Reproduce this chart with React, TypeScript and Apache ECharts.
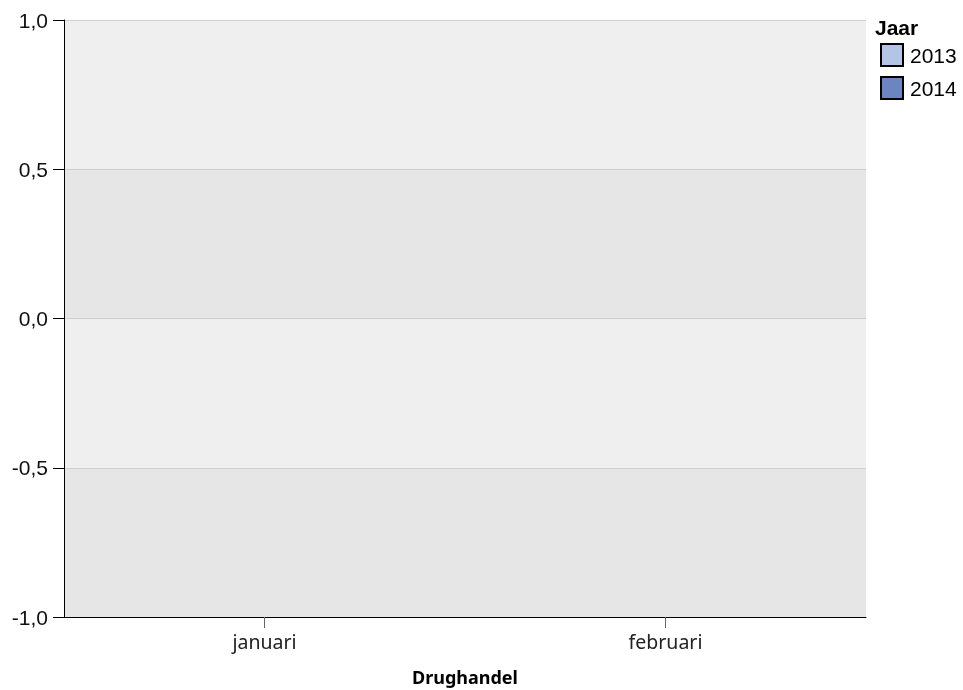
import React, { useEffect, useRef } from "react";
import * as echarts from "echarts";

const categories = ["januari", "februari"];
const years = ["2013", "2014"];
const values2013 = [0, 0];
const values2014 = [0, 0];
const yTicks = { min: -1, max: 1, interval: 0.5 };
const colors = ["#b4c4e6", "#6c84c0"];

const ARIAL = "'Liberation Sans', Arial, sans-serif";
const SANS = "'Noto Sans', sans-serif";

export default function App() {
  const ref = useRef<HTMLDivElement>(null);
  useEffect(() => {
    const chart = echarts.init(ref.current!, null, { renderer: "svg" });
    chart.setOption({
      animation: false,
      grid: { left: 64, top: 20, right: 97, bottom: 73, containLabel: false, outerBoundsMode: "none" },
      xAxis: {
        type: "category",
        data: categories,
        name: "Drughandel",
        nameLocation: "middle",
        nameGap: 51,
        nameTextStyle: { fontFamily: SANS, fontWeight: "bold", fontSize: 18, color: "#000" },
        axisLine: { onZero: false, lineStyle: { color: "#000", width: 1 } },
        axisTick: { show: true, alignWithLabel: true, length: 11, lineStyle: { color: "#666" } },
        axisLabel: { fontFamily: SANS, fontSize: 19.5, color: "#222", margin: 14 },
      },
      yAxis: {
        type: "value",
        min: yTicks.min,
        max: yTicks.max,
        interval: yTicks.interval,
        axisLine: { show: true, lineStyle: { color: "#000", width: 1 } },
        axisTick: { show: true, length: 11, lineStyle: { color: "#000" } },
        axisLabel: {
          fontFamily: ARIAL,
          fontSize: 21,
          color: "#111",
          margin: 16,
          formatter: (v: number) => v.toFixed(1).replace(".", ","),
        },
        splitLine: { show: true, lineStyle: { color: "#cfcfcf", width: 1 } },
        splitArea: { show: true, areaStyle: { color: ["#e6e6e6", "#efefef"] } },
      },
      legend: {
        orient: "vertical",
        left: 880,
        top: 43,
        padding: 0,
        itemWidth: 22,
        itemHeight: 22,
        itemGap: 9,
        icon: "rect",
        itemStyle: { borderColor: "#000", borderWidth: 2 },
        textStyle: { fontFamily: ARIAL, fontSize: 21, color: "#000", padding: [0, 0, 0, 2] },
        data: years,
      },
      graphic: [
        {
          type: "text",
          left: 875,
          top: 17,
          style: { text: "Jaar", fontFamily: ARIAL, fontWeight: "bold", fontSize: 21, fill: "#000" },
        },
      ],
      series: [
        { name: years[0], type: "bar", data: values2013, itemStyle: { color: colors[0] } },
        { name: years[1], type: "bar", data: values2014, itemStyle: { color: colors[1] } },
      ],
    });
    return () => chart.dispose();
  }, []);
  return <div ref={ref} style={{ position: "fixed", left: 0, top: 0, width: 963, height: 690 }} />;
}
